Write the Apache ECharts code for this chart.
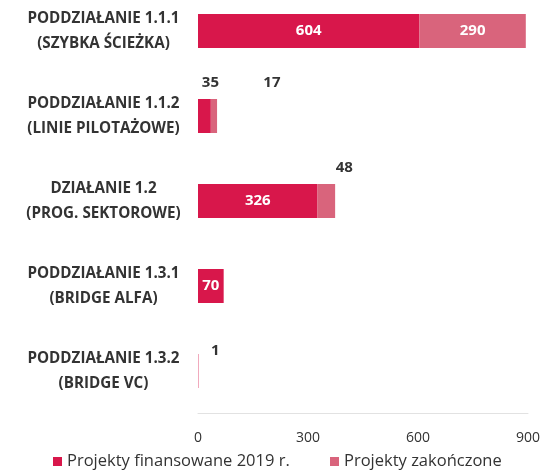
<!DOCTYPE html>
<html>
<head>
<meta charset="utf-8">
<script src="https://cdn.jsdelivr.net/npm/echarts@6/dist/echarts.min.js"></script>
<style>
  html, body {margin: 0; padding: 0; background: #fff; overflow: hidden;}
  /* chart box starts a little above the window so the first row sits high, as in the original */
  #chart {width: 545px; height: 482px; position: absolute; left: 0; top: -12px;}
</style>
</head>
<body>
<div id="chart"></div>
<script>
const categories = [
  'PODDZIAŁANIE 1.1.1\n(SZYBKA ŚCIEŻKA)',
  'PODDZIAŁANIE 1.1.2\n(LINIE PILOTAŻOWE)',
  'DZIAŁANIE 1.2\n(PROG. SEKTOROWE)',
  'PODDZIAŁANIE 1.3.1\n(BRIDGE ALFA)',
  'PODDZIAŁANIE 1.3.2\n(BRIDGE VC)'
];
const financed = [604, 35, 326, 70, 1];
const finished = [290, 17, 48, 0, 0];
const xTicks = [0, 300, 600, 900];
const seriesNames = ['Projekty finansowane 2019 r.', 'Projekty zakończone'];

const colDark = '#d8174b';
const colLight = '#d9647c';

// small values sit above the bar, as in the original
const outside = {
  0: {1: [6, -4], 4: [17, 9]},
  1: {1: [58, -4], 2: [18, -4]}
};

function makeData(vals, si) {
  return vals.map((v, i) => {
    const item = {value: v};
    if (v === 0) {
      item.label = {show: false};
    } else if (outside[si][i]) {
      item.label = {position: 'top', distance: 5, offset: outside[si][i], color: '#333'};
    }
    return item;
  });
}

const legendText = {color: '#333', fontSize: 16.5, fontFamily: 'Open Sans'};

var myChart = echarts.init(document.getElementById('chart'));
var option = {
  animation: false,
  grid: {left: 198, right: 17, top: 0.5, bottom: 56.5},
  legend: [
    {bottom: 0, left: 53, padding: 0, itemWidth: 9, itemHeight: 9, itemGap: 6, icon: 'rect',
     textStyle: legendText, data: [seriesNames[0]]},
    {bottom: 0, left: 330, padding: 0, itemWidth: 9, itemHeight: 9, itemGap: 6, icon: 'rect',
     textStyle: legendText, data: [seriesNames[1]]}
  ],
  xAxis: {
    type: 'value', min: 0, max: 900, interval: 300,
    axisLine: {show: true, lineStyle: {color: '#e2e2e2'}},
    axisTick: {show: false}, splitLine: {show: false},
    axisLabel: {color: '#333', fontSize: 14, fontFamily: 'Open Sans', margin: 18,
      formatter: v => xTicks.includes(v) ? String(v) : ''}
  },
  yAxis: {
    type: 'category', inverse: true, data: categories,
    axisLine: {show: false}, axisTick: {show: false},
    axisLabel: {color: '#333', fontSize: 15.2, fontWeight: 'bold', fontFamily: 'Open Sans',
      align: 'center', margin: 94.5, lineHeight: 25}
  },
  series: [
    {name: seriesNames[0], type: 'bar', stack: 'a', barWidth: 34,
     itemStyle: {color: colDark}, data: makeData(financed, 0),
     label: {show: true, position: 'inside', color: '#fff', fontWeight: 'bold', fontSize: 15, fontFamily: 'Open Sans'}},
    {name: seriesNames[1], type: 'bar', stack: 'a', barWidth: 34,
     itemStyle: {color: colLight}, data: makeData(finished, 1),
     label: {show: true, position: 'inside', color: '#fff', fontWeight: 'bold', fontSize: 15, fontFamily: 'Open Sans'}}
  ]
};
option && myChart.setOption(option);
</script>
</body>
</html>
